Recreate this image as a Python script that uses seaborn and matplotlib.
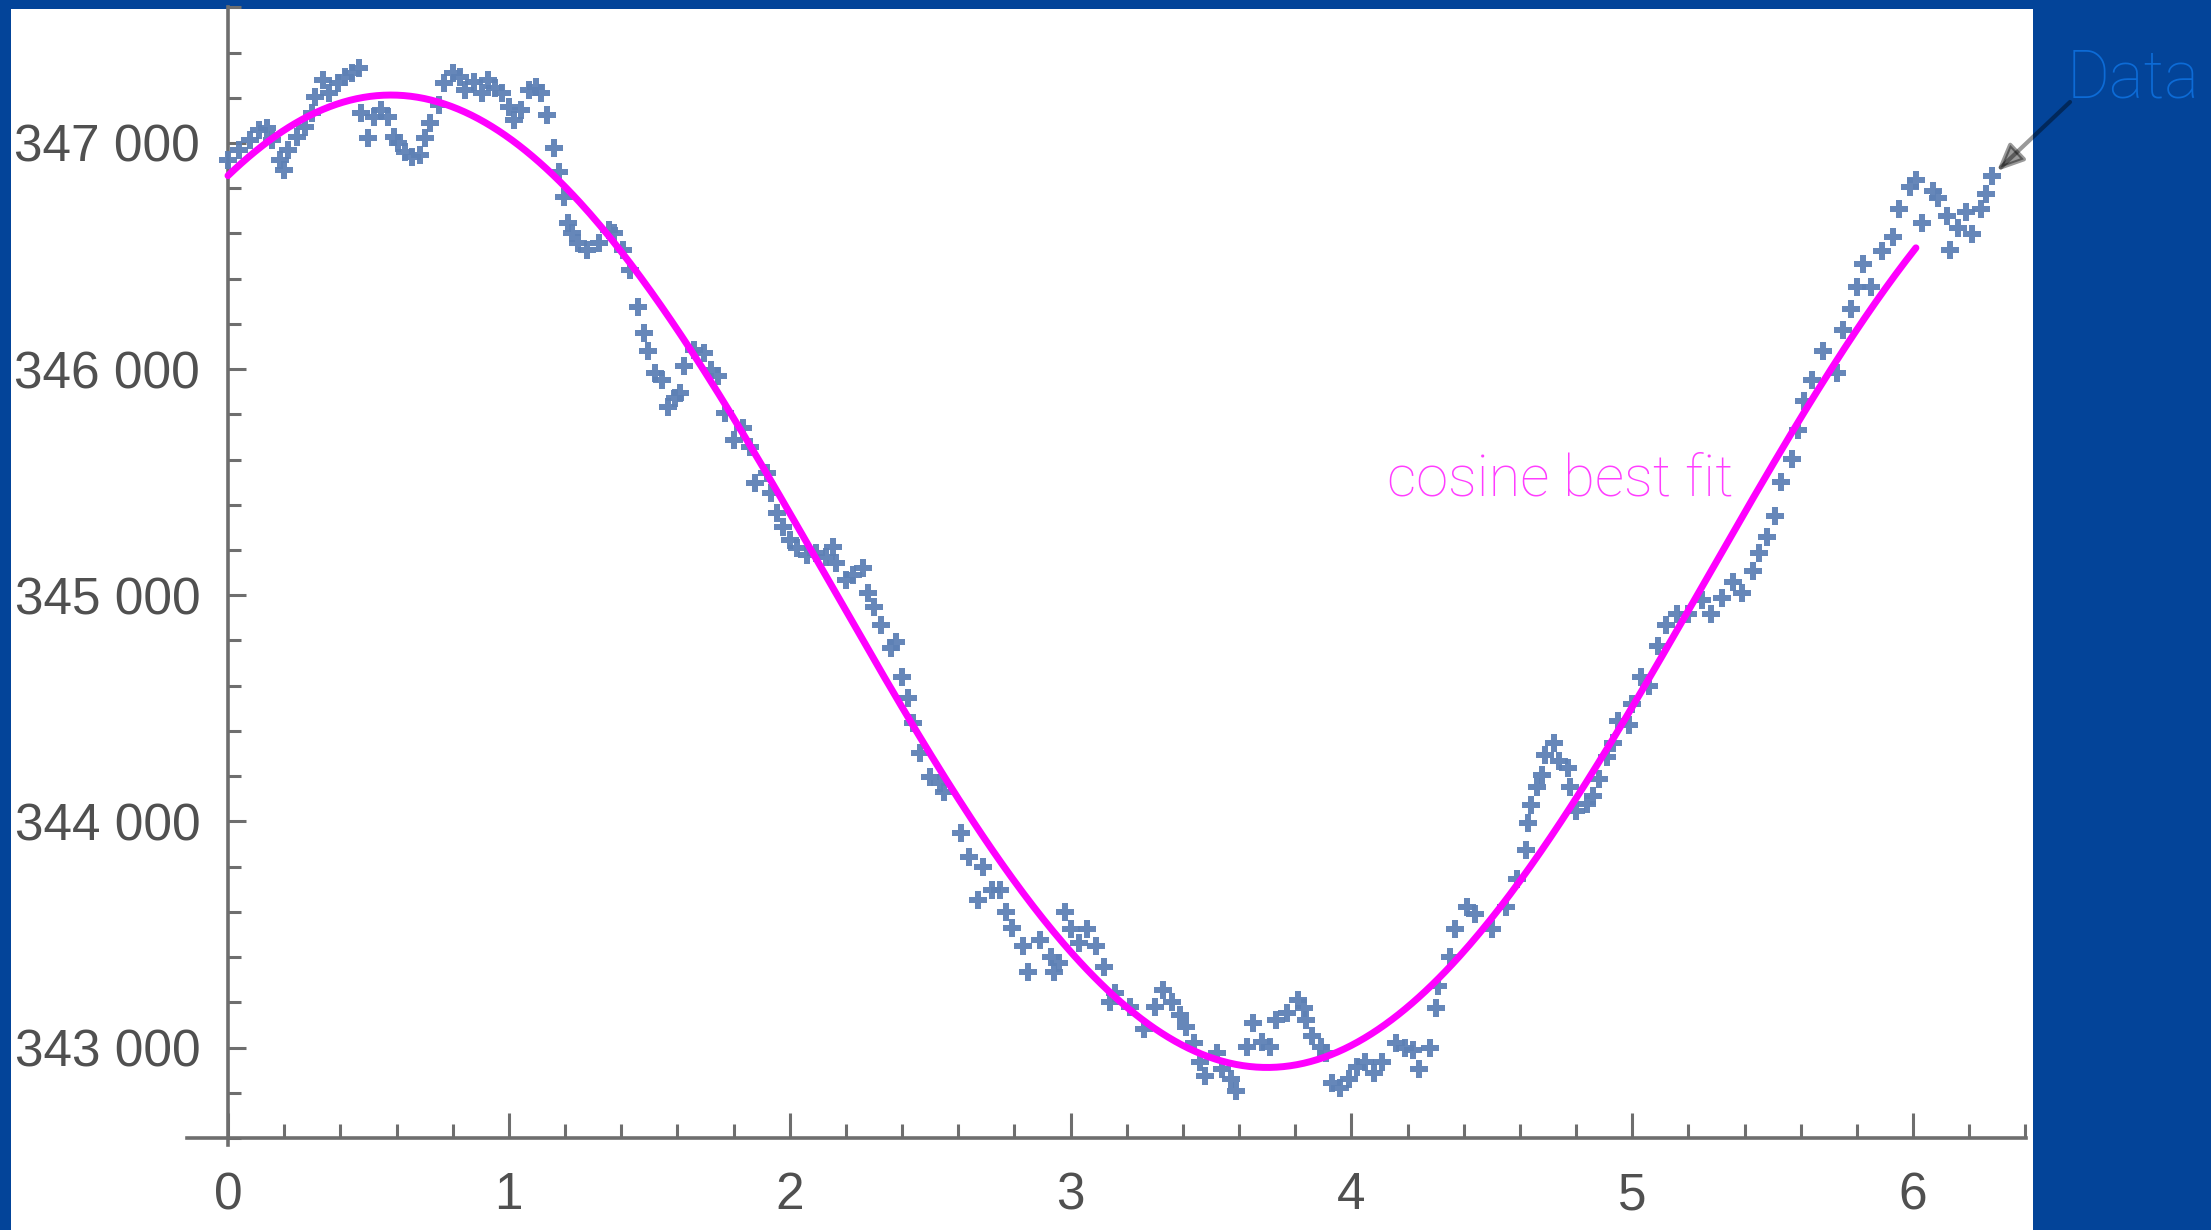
import numpy as np
import pandas as pd
import matplotlib
matplotlib.use("Agg")
import matplotlib.pyplot as plt
import seaborn as sns
from matplotlib.patches import Rectangle, FancyArrowPatch
from matplotlib.ticker import MultipleLocator, FixedLocator, FixedFormatter

# ---------------- data ----------------
point_x = [
    0.00, 0.04, 0.08, 0.11, 0.14, 0.155, 0.185, 0.20, 0.215, 0.245, 0.275, 0.30, 0.31, 0.34,
    0.36, 0.39, 0.415, 0.44, 0.465, 0.475, 0.50, 0.52, 0.545, 0.57, 0.59, 0.605, 0.63, 0.655,
    0.685, 0.70, 0.72, 0.75, 0.77, 0.80, 0.825, 0.845, 0.875, 0.905, 0.925, 0.95, 0.975, 1.00,
    1.02, 1.045, 1.07, 1.095, 1.115, 1.135, 1.16, 1.18, 1.195, 1.21, 1.225, 1.245, 1.28, 1.32,
    1.355, 1.375, 1.405, 1.43, 1.46, 1.48, 1.495, 1.52, 1.545, 1.565, 1.59, 1.61, 1.625, 1.66,
    1.695, 1.72, 1.745, 1.77,
    1.80, 1.835, 1.86, 1.875, 1.92, 1.935, 1.955, 1.975, 2.00, 2.025, 2.06, 2.095, 2.13, 2.155,
    2.165, 2.20, 2.225, 2.26, 2.28, 2.30, 2.325, 2.36, 2.38, 2.40, 2.42, 2.44, 2.465, 2.50,
    2.535, 2.55,
    2.61, 2.64, 2.67, 2.69, 2.72, 2.75, 2.77, 2.79, 2.83, 2.85, 2.89, 2.93, 2.94, 2.96, 2.98,
    3.00, 3.03, 3.06, 3.09, 3.12, 3.14, 3.16, 3.21, 3.26, 3.30, 3.33, 3.36, 3.39, 3.41, 3.44,
    3.46, 3.48, 3.52, 3.54, 3.57, 3.59, 3.63, 3.65, 3.68, 3.71, 3.73, 3.77, 3.81, 3.83, 3.84,
    3.86, 3.89, 3.91, 3.93, 3.96, 3.99, 4.02, 4.05, 4.08, 4.11, 4.16, 4.19, 4.22, 4.24, 4.28,
    4.30, 4.31, 4.35,
    4.37, 4.41, 4.44, 4.50, 4.55, 4.59, 4.62, 4.63, 4.64, 4.66, 4.68, 4.69, 4.72, 4.74, 4.77,
    4.78, 4.80, 4.84, 4.86, 4.88, 4.91, 4.93, 4.95, 4.99, 5.00, 5.03, 5.06, 5.09, 5.12, 5.16,
    5.20, 5.25, 5.28, 5.32, 5.36, 5.39, 5.43,
    5.45, 5.48, 5.51, 5.53, 5.57, 5.59, 5.61, 5.64, 5.68, 5.73, 5.75, 5.78, 5.80, 5.82, 5.85,
    5.89, 5.93, 5.95, 5.99, 6.01, 6.03, 6.07, 6.09, 6.12, 6.13, 6.16, 6.19, 6.21, 6.24, 6.26,
    6.28,
]
point_y = [
    346925, 346969, 347013, 347057, 347065, 347013, 346925, 346881, 346969, 347028, 347072, 347131, 347205, 347278,
    347220, 347264, 347293, 347308, 347330, 347131, 347021, 347116, 347146, 347116, 347028, 346999, 346962, 346940,
    346947, 347021, 347087, 347168, 347264, 347308, 347293, 347234, 347271, 347220, 347278, 347242, 347220, 347160,
    347102, 347146, 347234, 347249, 347220, 347124, 346977, 346873, 346763, 346645, 346601, 346557, 346527, 346557,
    346615, 346601, 346527, 346439, 346276, 346159, 346078, 345982, 345952, 345834, 345872, 345894, 346012, 346086,
    346071, 345998, 345968, 345805,
    345687, 345740, 345656, 345497, 345541, 345453, 345365, 345303, 345245, 345210, 345179, 345188, 345170, 345215,
    345144, 345069, 345091, 345122, 345011, 344950, 344870, 344768, 344795, 344640, 344547, 344436, 344304, 344198,
    344171, 344130,
    343950, 343844, 343654, 343800, 343698, 343698, 343601, 343530, 343447, 343336, 343477, 343402, 343332, 343375, 343601,
    343522, 343464, 343522, 343447, 343354, 343203, 343243, 343181, 343080, 343181, 343256, 343203, 343146, 343093, 343022,
    342934, 342872, 342978, 342903, 342859, 342806, 343004, 343110, 343026, 343004, 343124, 343154, 343212, 343177, 343124,
    343049, 343004, 342978, 342845, 342823, 342859, 342916, 342938, 342889, 342934, 343022, 343000, 342991, 342903, 343000,
    343177, 343270, 343402,
    343522, 343623, 343592, 343526, 343623, 343747, 343875, 343994, 344074, 344153, 344207, 344295, 344348, 344268, 344238,
    344153, 344048, 344078, 344114, 344189, 344286, 344348, 344445, 344428, 344520, 344640, 344600, 344777, 344870, 344918,
    344918, 344980, 344918, 344989, 345060, 345011, 345108,
    345188, 345258, 345351, 345502, 345603, 345731, 345858, 345951, 346080, 345983, 346173, 346266, 346364, 346465, 346364,
    346523, 346585, 346708, 346806, 346836, 346646, 346788, 346757, 346677, 346527, 346624, 346695, 346598, 346708, 346775,
    346854,
]

# cosine best fit parameters
fit_mean = 345062
fit_amplitude = 2150
fit_omega = 1.007
fit_peak_x = 0.58
fit_x_start = 0.0
fit_x_end = 6.01

x_tick_values = [0, 1, 2, 3, 4, 5, 6]
x_tick_labels = ["0", "1", "2", "3", "4", "5", "6"]
y_tick_values = [343000, 344000, 345000, 346000, 347000]
y_tick_labels = ["343 000", "344 000", "345 000", "346 000", "347 000"]

fit_label = "cosine best fit"
data_label = "Data"

# ---------------- figure ----------------
W, H = 2211, 1230
sns.set_style("white")
plt.rcParams["font.family"] = ["Liberation Sans", "DejaVu Sans"]

fig = plt.figure(figsize=(W / 100, H / 100), dpi=100)
fig.patch.set_facecolor("#034499")
panel = Rectangle((11 / W, 0), (2033 - 11) / W, (H - 9) / H,
                  transform=fig.transFigure, facecolor="white",
                  edgecolor="none", zorder=-5)
fig.add_artist(panel)

ax = fig.add_axes([187 / W, (H - 1138) / H, (2026 - 187) / W, (1138 - 7.3) / H])
ax.set_facecolor("none")
ax.set_zorder(2)

df_pts = pd.DataFrame({"x": point_x, "y": point_y})
sns.scatterplot(data=df_pts, x="x", y="y", ax=ax, marker="P", s=150,
                color="#5e81b5", linewidth=0, alpha=0.95, zorder=3, legend=False)

fit_x = np.linspace(fit_x_start, fit_x_end, 500)
fit_y = fit_mean + fit_amplitude * np.cos(fit_omega * (fit_x - fit_peak_x))
df_fit = pd.DataFrame({"x": fit_x, "y": fit_y})
sns.lineplot(data=df_fit, x="x", y="y", ax=ax, color="#ff00ff", linewidth=5,
             zorder=4, sort=False, estimator=None, legend=False)

ax.set_xlim(-0.146, 6.402)
ax.set_ylim(342600, 347600)
ax.set_xlabel("")
ax.set_ylabel("")

axis_color = "#6e6e6e"
for side in ["top", "right"]:
    ax.spines[side].set_visible(False)
ax.spines["left"].set_position(("data", 0))
for side in ["left", "bottom"]:
    ax.spines[side].set_color(axis_color)
    ax.spines[side].set_linewidth(2.6)
ax.spines["left"].set_bounds(342570, 347600)

ax.xaxis.set_major_locator(FixedLocator(x_tick_values))
ax.xaxis.set_major_formatter(FixedFormatter(x_tick_labels))
ax.xaxis.set_minor_locator(MultipleLocator(0.2))
ax.yaxis.set_major_locator(FixedLocator(y_tick_values))
ax.yaxis.set_major_formatter(FixedFormatter(y_tick_labels))
ax.yaxis.set_minor_locator(MultipleLocator(200))

label_color = "#505050"
ax.tick_params(axis="x", which="both", bottom=True, top=False)
ax.tick_params(axis="y", which="both", left=True, right=False)
ax.tick_params(axis="x", which="major", direction="in", length=18, width=2.2,
               color=axis_color, pad=24, labelsize=37, labelcolor=label_color)
ax.tick_params(axis="x", which="minor", direction="in", length=10, width=2.2,
               color=axis_color)
ax.tick_params(axis="y", which="major", direction="in", length=13, width=2.2,
               color=axis_color, pad=20, labelsize=37, labelcolor=label_color)
ax.tick_params(axis="y", which="minor", direction="in", length=9.5, width=2.2,
               color=axis_color)

# annotations
t_fit = fig.text(1387 / W, (H - 496) / H, fit_label, color="#ff3dff",
                 fontsize=40, family=["Roboto", "DejaVu Sans"], fontweight="light",
                 ha="left", va="baseline", zorder=6)
t_data = fig.text(2067 / W, (H - 97) / H, data_label, color="#0d6bd6",
                  fontsize=60, family=["Roboto", "DejaVu Sans"], fontweight="light",
                  ha="left", va="baseline", zorder=6)

fig.canvas.draw()
r = fig.canvas.get_renderer()
for t, target in [(t_fit, 346), (t_data, 133)]:
    w = t.get_window_extent(r).width
    t.set_fontsize(t.get_fontsize() * target / w)

arrow = FancyArrowPatch(
    posA=(2070, H - 102), posB=(1997, H - 171), transform=None,
    arrowstyle="-|>,head_length=0.9,head_width=0.4", mutation_scale=18,
    color=(0, 0, 0, 0.4), lw=3, shrinkA=0, shrinkB=0, zorder=10)
fig.add_artist(arrow)

fig.savefig("out.png", dpi=100, facecolor=fig.get_facecolor())
